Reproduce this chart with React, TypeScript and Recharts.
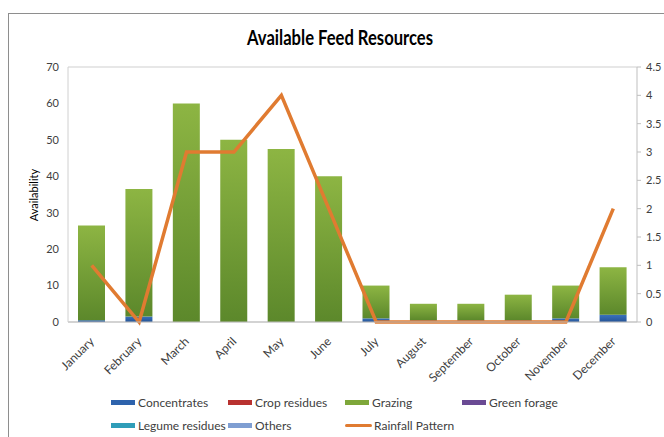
import React from 'react';
import {
  ComposedChart,
  Bar,
  Line,
  XAxis,
  YAxis,
  CartesianGrid,
  Legend,
} from 'recharts';

const months = ['January', 'February', 'March', 'April', 'May', 'June', 'July', 'August', 'September', 'October', 'November', 'December'];
const concentrates = [0.5, 1.5, 0, 0, 0, 0, 1, 0.5, 0.5, 0.5, 1, 2];
const cropResidues = [0, 0, 0, 0, 0, 0, 0, 0, 0, 0, 0, 0];
const grazing = [26, 35, 60, 50, 47.5, 40, 9, 4.5, 4.5, 7, 9, 13];
const greenForage = [0, 0, 0, 0, 0, 0, 0, 0, 0, 0, 0, 0];
const legumeResidues = [0, 0, 0, 0, 0, 0, 0, 0, 0, 0, 0, 0];
const others = [0, 0, 0, 0, 0, 0, 0, 0, 0, 0, 0, 0];
const rainfall = [1, 0, 3, 3, 4, 2, 0, 0, 0, 0, 0, 2];

const leftTicks = [0, 10, 20, 30, 40, 50, 60, 70];
const rightTicks = [0, 0.5, 1, 1.5, 2, 2.5, 3, 3.5, 4, 4.5];

const data = months.map((m, i) => ({
  month: m,
  concentrates: concentrates[i],
  cropResidues: cropResidues[i],
  grazing: grazing[i],
  greenForage: greenForage[i],
  legumeResidues: legumeResidues[i],
  others: others[i],
  rainfall: rainfall[i],
}));

const legendItems = [
  { name: 'Concentrates', color: '#2E63AC', type: 'rect' },
  { name: 'Crop residues', color: '#B8312F', type: 'rect' },
  { name: 'Grazing', color: '#7EA73A', type: 'rect' },
  { name: 'Green forage', color: '#6A4A94', type: 'rect' },
  { name: 'Legume residues', color: '#2F9DB8', type: 'rect' },
  { name: 'Others', color: '#7F9ED2', type: 'rect' },
  { name: 'Rainfall Pattern', color: '#E07B31', type: 'line' },
];

const FONT = 'Lato, "Open Sans", sans-serif';
const TXT = '#404040';

const XTick = (props: any) => {
  const { x, y, payload } = props;
  return (
    <text
      transform={`translate(${x},${y + 9}) rotate(-45)`}
      textAnchor="end"
      dominantBaseline="central"
      fontSize={12}
      fontFamily={FONT}
      fill={TXT}
    >
      {payload.value}
    </text>
  );
};

const LegendContent = () => (
  <div
    style={{
      display: 'grid',
      gridTemplateColumns: 'repeat(4, 117px)',
      gridAutoRows: '23px',
      fontFamily: FONT,
      fontSize: 12,
      color: TXT,
    }}
  >
    {legendItems.map((it) => (
      <div key={it.name} style={{ display: 'flex', alignItems: 'center', whiteSpace: 'nowrap' }}>
        {it.type === 'rect' ? (
          <span style={{ display: 'inline-block', width: 24, height: 5, background: it.color, marginRight: 3 }} />
        ) : (
          <span style={{ display: 'inline-block', width: 27, height: 3, borderRadius: 2, background: it.color, marginRight: 2 }} />
        )}
        <span>{it.name}</span>
      </div>
    ))}
  </div>
);

export default function App() {
  return (
    <div style={{ position: 'absolute', left: 0, top: 0, width: 664, height: 437, overflow: 'hidden', background: '#fff' }}>
      <div
        style={{
          position: 'absolute',
          left: 8,
          top: 13,
          width: 700,
          height: 500,
          border: '1px solid #8E8E8E',
          boxSizing: 'border-box',
        }}
      />
      <div style={{ position: 'absolute', left: 0, top: 0 }}>
        <ComposedChart
          width={664}
          height={437}
          data={data}
          margin={{ top: 67, right: 0, left: 0, bottom: 45 }}
          barSize={27}
        >
          <defs>
            <linearGradient id="gGrazing" x1="0" y1="0" x2="0" y2="1">
              <stop offset="0%" stopColor="#8DB543" />
              <stop offset="100%" stopColor="#5C882B" />
            </linearGradient>
            <linearGradient id="gConc" x1="0" y1="0" x2="0" y2="1">
              <stop offset="0%" stopColor="#3A72BC" />
              <stop offset="100%" stopColor="#245395" />
            </linearGradient>
          </defs>
          <CartesianGrid vertical={false} stroke="#CFCFCF" />
          <XAxis
            dataKey="month"
            height={70}
            interval={0}
            tick={<XTick />}
            tickLine={false}
            axisLine={{ stroke: '#BFBFBF' }}
          />
          <YAxis
            yAxisId="left"
            width={68}
            domain={[0, 70]}
            ticks={leftTicks}
            tick={{ fontSize: 11, fontFamily: FONT, fill: TXT }}
            tickLine={false}
            axisLine={{ stroke: '#D0D0D0' }}
            tickMargin={3}
          />
          <YAxis
            yAxisId="right"
            orientation="right"
            width={27}
            domain={[0, 4.5]}
            ticks={rightTicks}
            tick={{ fontSize: 11, fontFamily: FONT, fill: TXT, textAnchor: 'start' }}
            tickLine={{ stroke: '#BFBFBF' }}
            tickSize={4}
            axisLine={{ stroke: '#BFBFBF' }}
            tickMargin={5}
          />
          <Bar yAxisId="left" dataKey="concentrates" name="Concentrates" stackId="a" fill="url(#gConc)" isAnimationActive={false} />
          <Bar yAxisId="left" dataKey="cropResidues" name="Crop residues" stackId="a" fill="#B8312F" isAnimationActive={false} />
          <Bar yAxisId="left" dataKey="grazing" name="Grazing" stackId="a" fill="url(#gGrazing)" isAnimationActive={false} />
          <Bar yAxisId="left" dataKey="greenForage" name="Green forage" stackId="a" fill="#6A4A94" isAnimationActive={false} />
          <Bar yAxisId="left" dataKey="legumeResidues" name="Legume residues" stackId="a" fill="#2F9DB8" isAnimationActive={false} />
          <Bar yAxisId="left" dataKey="others" name="Others" stackId="a" fill="#7F9ED2" isAnimationActive={false} />
          <Line
            yAxisId="right"
            dataKey="rainfall"
            name="Rainfall Pattern"
            stroke="#E07B31"
            strokeWidth={3.5}
            dot={false}
            type="linear"
            isAnimationActive={false}
          />
          <Legend
            verticalAlign="middle"
            layout="horizontal"
            wrapperStyle={{ top: 391, left: 111, width: 480 }}
            content={<LegendContent />}
          />
        </ComposedChart>
      </div>
      <svg style={{ position: 'absolute', left: 0, top: 0, pointerEvents: 'none' }} width={664} height={437}>
        <text
          x={340}
          y={45}
          textAnchor="middle"
          fontFamily={FONT}
          fontWeight="bold"
          fontSize={20}
          fill="#000"
          textLength={186}
          lengthAdjust="spacingAndGlyphs"
        >
          Available Feed Resources
        </text>
        <text
          transform="translate(38,195) rotate(-90)"
          textAnchor="middle"
          fontFamily={FONT}
          fontSize={11}
          fill="#000"
        >
          Availability
        </text>
      </svg>
    </div>
  );
}
